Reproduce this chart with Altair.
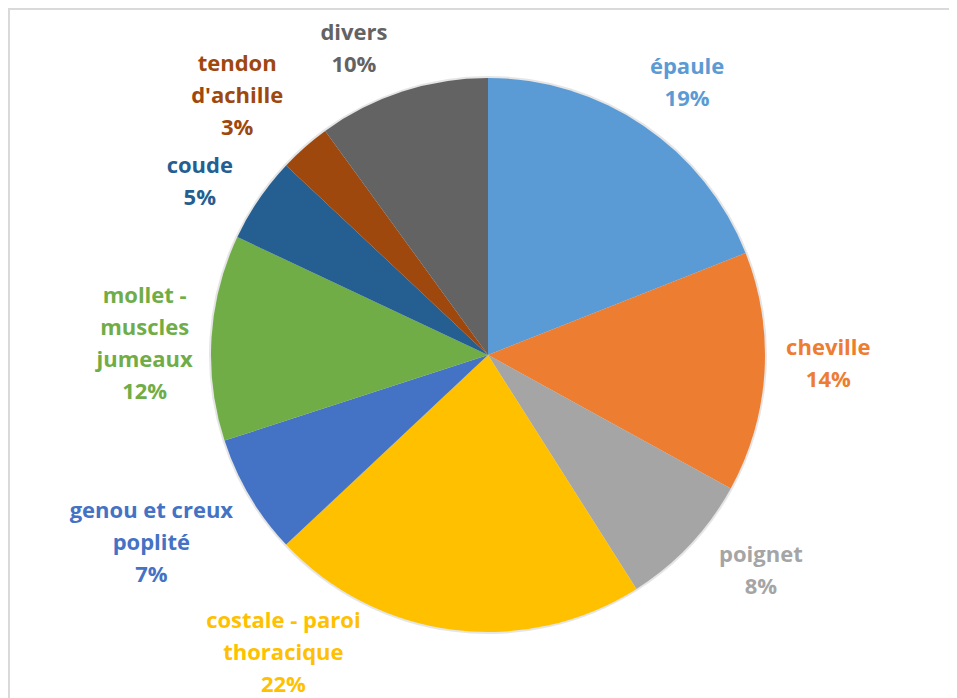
import altair as alt
import pandas as pd

# ---- data ----
categories = ["épaule", "cheville", "poignet", "costale - paroi thoracique",
              "genou et creux poplité", "mollet - muscles jumeaux", "coude",
              "tendon d'achille", "divers"]
label_lines = ["épaule", "cheville", "poignet", "costale - paroi\nthoracique",
               "genou et creux\npoplité", "mollet -\nmuscles\njumeaux", "coude",
               "tendon\nd'achille", "divers"]
percent = [19, 14, 8, 22, 7, 12, 5, 3, 10]
colors = ["#5B9BD5", "#ED7D31", "#A5A5A5", "#FFC000", "#4472C4",
          "#70AD47", "#255E91", "#9E480E", "#636363"]

# ---- layout / style (not data) ----
W, H = 941, 690
CX, CY = 480, 347
PIE_R = 277
LABEL_R = 340
FONT = "Open Sans"
# small label nudges (dx, dy), like Excel's "best fit" placement
label_nudge = [(8, -7), (1, -28), (25, -33), (-162, -71), (-44, -17),
               (-4, -38), (-7, 2), (-26, -36), (-29, 1)]

df = pd.DataFrame({
    "cat": categories,
    "value": percent,
    "order": list(range(len(categories))),
    "label": [f"{l}\n{p}%" for l, p in zip(label_lines, percent)],
})

color_scale = alt.Scale(domain=categories, range=colors)

base = alt.Chart(df).encode(
    theta=alt.Theta("value:Q", stack=True),
    order=alt.Order("order:Q"),
    x=alt.value(CX),
    y=alt.value(CY),
)

shadow = base.mark_arc(radius=PIE_R + 2, opacity=0.10).encode(
    color=alt.value("#000000"))

arcs = base.mark_arc(radius=PIE_R).encode(
    color=alt.Color("cat:N", scale=color_scale, legend=None))

layers = [shadow, arcs]
for i, (dx, dy) in enumerate(label_nudge):
    layers.append(
        base.mark_text(radius=LABEL_R, dx=dx, dy=dy, font=FONT, fontSize=22,
                       fontWeight="bold", lineBreak="\n", lineHeight=32,
                       align="center", baseline="middle").encode(
            color=alt.Color("cat:N", scale=color_scale, legend=None),
            text=alt.condition(f"datum.order == {i}", "label:N", alt.value(""))
        )
    )

# frame: only the left and top edges fall inside the window, as in the reference
border_left = alt.Chart(df).mark_rule(color="#D9D9D9", strokeWidth=1.5).encode(
    x=alt.value(0.75), y=alt.value(0), y2=alt.value(H))
border_top = alt.Chart(df).mark_rule(color="#D9D9D9", strokeWidth=1.5).encode(
    x=alt.value(0), x2=alt.value(W), y=alt.value(0.75))

chart = alt.layer(border_left, border_top, *layers).properties(
    width=W, height=H, autosize=alt.AutoSizeParams(type="none"), padding=0,
    background="white",
).configure_view(strokeWidth=0, stroke="transparent")

chart.save("out.html", embed_options={"renderer": "svg", "actions": False})
